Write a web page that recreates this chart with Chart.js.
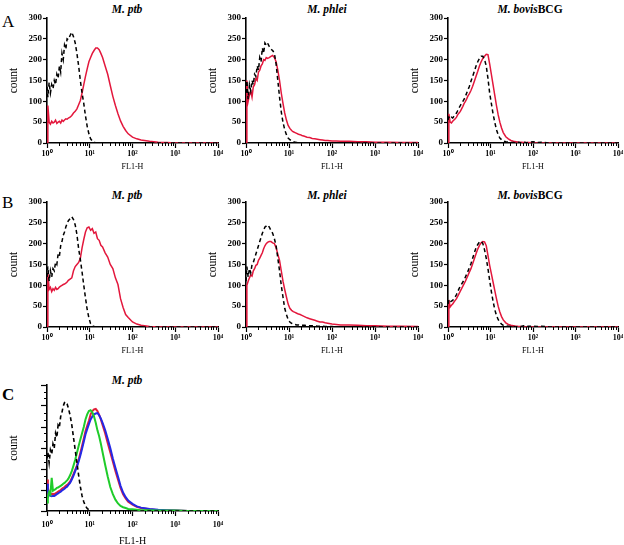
<!DOCTYPE html>
<html>
<head>
<meta charset="utf-8">
<script src="https://cdn.jsdelivr.net/npm/chart.js@4.4.1/dist/chart.umd.min.js"></script>
<style>
body { margin: 0; background: #fff; width: 624px; height: 545px; position: relative; overflow: hidden; font-family: "Liberation Serif", serif; }
canvas { position: absolute; }
.lbl { position: absolute; font-size: 17px; line-height: 1; }
.ttl { position: absolute; font-size: 11.5px; font-weight: bold; white-space: nowrap; transform: translate(-50%, -50%); line-height: 1; }
</style>
</head>
<body>
<div class="lbl" style="left:2px;top:13px">A</div>
<div class="lbl" style="left:2px;top:194px">B</div>
<div class="lbl" style="left:2px;top:386px;font-weight:bold">C</div>

<div class="ttl" style="left:127px;top:10px"><i>M. ptb</i></div>
<div class="ttl" style="left:327px;top:10px"><i>M. phlei</i></div>
<div class="ttl" style="left:530px;top:10px"><i>M. bovis</i>BCG</div>
<div class="ttl" style="left:127px;top:196px"><i>M. ptb</i></div>
<div class="ttl" style="left:327px;top:196px"><i>M. phlei</i></div>
<div class="ttl" style="left:530px;top:196px"><i>M. bovis</i>BCG</div>
<div class="ttl" style="left:127px;top:381px"><i>M. ptb</i></div>

<script>
// ---- data ----
// FL1-H channel positions (log10 of fluorescence)
const fl1Log = [
  0, 0.02, 0.05, 0.08, 0.11, 0.14, 0.17, 0.2, 0.23, 0.26,
  0.29, 0.32, 0.35, 0.38, 0.41, 0.44, 0.47, 0.5, 0.54, 0.58,
  0.62, 0.66, 0.7, 0.74, 0.78, 0.82, 0.86, 0.9, 0.94, 0.98,
  1.02, 1.06, 1.1, 1.14, 1.18, 1.22, 1.26, 1.3, 1.36, 1.42,
  1.48, 1.54, 1.6, 1.66, 1.72, 1.78, 1.84, 1.9, 2.0, 2.1,
  2.2, 2.4, 2.6, 2.8, 3.0, 3.3, 3.6, 4.0
];
const xDecades = [1, 10, 100, 1000, 10000];
const xTickLabels = ['10⁰', '10¹', '10²', '10³', '10⁴'];
const yTicks = [0, 50, 100, 150, 200, 250, 300];

// row A
const ptbA_ctrl = [
  135,110,145,120,140,130,150,140,165,155,
  185,170,215,200,235,225,250,248,258,266,
  255,240,215,185,150,120,95,65,40,22,
  10,5,2,0,0,0,0,0,0,0,
  0,0,0,0,0,0,0,0,0,0,
  0,0,0,0,0,0,0,0
];
const ptbA_stain = [
  0,90,50,45,52,48,50,55,47,50,
  52,48,55,52,55,58,57,60,62,66,
  72,76,82,92,102,120,140,160,178,195,
  205,215,222,228,228,224,215,205,185,165,
  138,112,90,70,53,40,30,22,14,10,
  7,4,2,1,0,0,0,0
];
const phleiA_ctrl = [
  120,150,105,140,125,150,140,165,160,185,
  175,205,195,228,215,240,235,240,232,225,
  222,215,190,150,110,75,50,32,20,12,
  8,5,3,2,1,0,0,0,0,0,
  0,0,0,0,0,0,0,0,0,0,
  0,0,0,0,0,0,0,0
];
const phleiA_stain = [
  0,150,100,115,125,110,135,140,155,150,
  170,175,185,190,200,198,205,203,205,208,
  210,205,195,175,150,120,95,72,55,42,
  35,30,27,25,23,21,20,18,16,14,
  13,11,10,9,8,7,6,6,5,5,
  4,4,3,3,2,2,1,1
];
const bcgA_ctrl = [
  55,62,58,62,60,64,68,72,78,84,
  90,95,100,105,112,120,128,135,148,160,
  172,185,195,203,208,208,200,185,155,120,
  95,70,50,32,20,12,8,5,3,2,
  1,1,0,2,0,3,0,2,3,1,
  2,0,0,0,0,0,0,0
];
const bcgA_stain = [
  0,70,50,48,52,55,58,62,68,72,
  76,82,88,95,100,106,113,118,126,136,
  148,160,172,185,195,203,208,213,212,190,
  165,140,115,90,68,50,36,25,15,10,
  6,4,3,2,2,1,1,1,0,0,
  0,0,0,0,0,0,0,0
];

// row B
const ptbB_ctrl = [
  120,145,110,135,120,140,135,155,150,175,
  170,195,205,220,228,240,248,255,260,265,
  258,245,222,188,162,132,100,70,42,22,
  8,3,1,0,0,0,0,0,0,0,
  0,0,0,0,0,0,0,0,0,0,
  0,0,0,0,0,0,0,0
];
const ptbB_stain = [
  0,130,90,95,85,92,88,95,90,92,
  96,98,100,102,103,105,108,112,115,118,
  135,145,150,155,165,190,210,228,238,240,
  232,236,225,228,212,208,196,192,178,168,
  150,140,118,102,68,47,30,23,12,7,
  4,1,0,0,0,0,0,0
];
const phleiB_ctrl = [
  110,145,120,140,130,150,155,165,175,185,
  195,205,215,225,232,240,242,245,240,232,
  225,212,195,165,135,100,72,45,30,18,
  12,9,7,6,5,5,4,4,4,3,
  3,3,3,2,2,2,1,1,1,0,
  0,0,0,0,0,0,0,0
];
const phleiB_stain = [
  0,100,110,118,125,122,135,140,148,150,
  160,165,172,178,188,195,200,203,205,205,
  202,200,190,175,160,135,110,90,72,55,
  45,40,37,35,33,31,30,28,25,22,
  20,18,16,14,12,12,10,9,7,6,
  5,5,4,3,3,2,2,1
];
const bcgB_ctrl = [
  55,65,60,62,64,68,72,78,85,92,
  98,103,108,113,120,127,134,142,152,165,
  178,190,198,204,206,200,185,165,140,112,
  85,62,42,28,18,11,7,4,3,2,
  1,1,0,2,1,3,1,2,2,1,
  2,0,0,0,0,0,0,0
];
const bcgB_stain = [
  0,65,48,52,55,60,64,68,74,80,
  86,92,98,104,110,117,124,131,140,152,
  164,176,187,196,202,205,204,195,172,148,
  128,108,88,68,50,36,25,17,10,6,
  4,3,2,1,1,0,0,0,0,0,
  0,0,0,0,0,0,0,0
];

// row C
const ptbC_ctrl = [
  125,140,115,145,135,160,150,185,175,205,
  200,225,235,250,258,260,255,245,228,205,
  175,145,115,85,58,36,22,12,6,3,
  1,0,0,0,0,0,0,0,0,0,
  0,0,0,0,0,0,0,0,0,0,
  0,0,0,0,0,0,0,0
];
const ptbC_green = [
  20,30,45,40,79,48,50,52,55,56,
  58,60,62,65,67,70,73,77,85,95,
  108,122,138,155,170,185,200,218,230,238,
  240,235,225,210,192,178,160,140,110,82,
  57,40,27,18,12,9,7,5,4,3,
  2,2,1,1,1,0,0,0
];
const ptbC_red = [
  75,55,43,42,40,41,40,42,44,46,
  48,50,53,55,57,60,62,65,70,78,
  88,98,108,122,138,155,172,190,203,215,
  230,238,242,243,238,229,218,205,185,162,
  140,118,95,75,55,40,30,22,15,10,
  7,4,2,1,1,0,0,0
];
const ptbC_blue = [
  65,50,38,36,35,36,36,38,40,42,
  44,46,49,51,53,56,58,62,67,75,
  84,95,105,118,132,148,165,182,195,207,
  218,225,230,232,233,228,220,210,193,172,
  150,125,103,82,60,44,33,25,17,11,
  8,5,3,2,1,0,0,0
];

// ---- styles ----
const styles = {
  ctrl:  { borderColor: '#000', borderDash: [4, 3], borderWidth: 1.5 },
  red:   { borderColor: '#e3173c', borderWidth: 1.5 },
  ctrlC: { borderColor: '#000', borderDash: [4, 3], borderWidth: 1.6 },
  redC:  { borderColor: '#e0203a', borderWidth: 2 },
  blueC: { borderColor: '#2428e6', borderWidth: 2 },
  greenC:{ borderColor: '#1fcc2a', borderWidth: 2 }
};

const panels = [
  { x: 47,  y: 18,  w: 171, h: 125, xH: 30, labels: true, series: [[ptbA_ctrl, 'ctrl'], [ptbA_stain, 'red']] },
  { x: 246, y: 18,  w: 172, h: 125, xH: 30, labels: true, series: [[phleiA_ctrl, 'ctrl'], [phleiA_stain, 'red']] },
  { x: 448, y: 18,  w: 170, h: 125, xH: 30, labels: true, series: [[bcgA_ctrl, 'ctrl'], [bcgA_stain, 'red']] },
  { x: 47,  y: 202, w: 171, h: 125, xH: 30, labels: true, series: [[ptbB_ctrl, 'ctrl'], [ptbB_stain, 'red']] },
  { x: 246, y: 202, w: 172, h: 125, xH: 30, labels: true, series: [[phleiB_ctrl, 'ctrl'], [phleiB_stain, 'red']] },
  { x: 448, y: 202, w: 170, h: 125, xH: 30, labels: true, series: [[bcgB_ctrl, 'ctrl'], [bcgB_stain, 'red']] },
  { x: 47,  y: 385, w: 171, h: 126, xH: 38, labels: false, big: true,
    series: [[ptbC_ctrl, 'ctrlC'], [ptbC_green, 'greenC'], [ptbC_blue, 'blueC'], [ptbC_red, 'redC']] }
];

const xMinor = [];
for (let d = 0; d < 4; d++) for (let m = 2; m <= 9; m++) xMinor.push(m * xDecades[d]);
const yMinorC = [];
for (let k = 0; k <= 18; k++) yMinorC.push(k * 50 / 3);

function fixSize(dim, val) {
  return s => { s[dim] = val; s.paddingLeft = s.paddingRight = s.paddingTop = s.paddingBottom = 0; };
}

function makeChart(p) {
  const padT = 8, padR = 6, yW = 42;
  const cv = document.createElement('canvas');
  cv.width = yW + p.w + padR;
  cv.height = padT + p.h + p.xH;
  cv.style.left = (p.x - yW) + 'px';
  cv.style.top = (p.y - padT) + 'px';
  document.body.appendChild(cv);

  const datasets = p.series.map(([vals, st]) => Object.assign({
    data: fl1Log.map((e, i) => ({ x: Math.pow(10, e), y: vals[i] })),
    pointRadius: 0, fill: false, tension: 0
  }, styles[st]));

  const scales = {
    x: {
      type: 'logarithmic', min: 1, max: 10000,
      afterBuildTicks: s => { s.ticks = xDecades.map(v => ({ value: v })); },
      ticks: { autoSkip: false, maxRotation: 0, padding: p.big ? 4 : 1, color: '#000',
        font: { family: 'Liberation Serif', size: 8, weight: 'bold' },
        callback: (v, i) => xTickLabels[i] },
      grid: { drawOnChartArea: false, tickLength: 5, tickColor: '#000', tickWidth: 1.2 },
      border: { color: '#000', width: 1.6 },
      title: { display: true, text: 'FL1-H', color: '#000', padding: { top: 2, bottom: p.big ? 2 : 1 },
        font: { family: 'Liberation Serif', size: p.big ? 10 : 8 } },
      afterFit: fixSize('height', p.xH)
    },
    xm: {
      type: 'logarithmic', position: 'bottom', weight: -1, min: 1, max: 10000,
      afterBuildTicks: s => { s.ticks = xMinor.map(v => ({ value: v })); },
      ticks: { display: false },
      grid: { drawOnChartArea: false, tickLength: 3, tickColor: '#000', tickWidth: 1 },
      border: { display: false },
      afterFit: fixSize('height', 0)
    },
    y: {
      min: 0, max: 300,
      afterBuildTicks: s => { s.ticks = yTicks.map(v => ({ value: v })); },
      ticks: { display: p.labels, padding: 1, color: '#000',
        font: { family: 'Liberation Serif', size: 9, weight: 'bold' } },
      grid: { drawOnChartArea: false, tickLength: p.big ? 6 : 4, tickColor: '#000', tickWidth: 1.2 },
      border: { color: '#000', width: 1.6 },
      title: { display: true, text: 'count', color: '#000', padding: { top: 2, bottom: 2 },
        font: { family: 'Liberation Serif', size: 11.5 } },
      afterFit: fixSize('width', yW)
    }
  };
  if (p.big) {
    scales.ym = {
      position: 'left', weight: -1, min: 0, max: 300,
      afterBuildTicks: s => { s.ticks = yMinorC.map(v => ({ value: v })); },
      ticks: { display: false },
      grid: { drawOnChartArea: false, tickLength: 3, tickColor: '#000', tickWidth: 1 },
      border: { display: false },
      afterFit: fixSize('width', 0)
    };
  }

  new Chart(cv, {
    type: 'line',
    data: { datasets: datasets },
    options: {
      responsive: false, animation: false, devicePixelRatio: 1,
      layout: { padding: { top: padT, right: padR, left: 0, bottom: 0 } },
      plugins: { legend: { display: false }, tooltip: { enabled: false } },
      scales: scales
    }
  });
}

panels.forEach(makeChart);
</script>
</body>
</html>
